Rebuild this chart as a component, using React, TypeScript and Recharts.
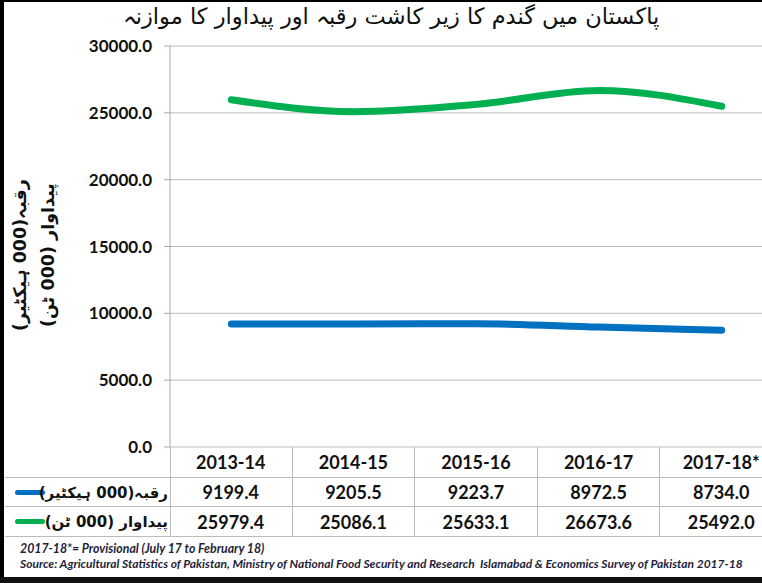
import { LineChart, Line, XAxis, YAxis, CartesianGrid } from "recharts";

const years = ["2013-14", "2014-15", "2015-16", "2016-17", "2017-18*"];
const areaValues = [9199.4, 9205.5, 9223.7, 8972.5, 8734.0];
const productionValues = [25979.4, 25086.1, 25633.1, 26673.6, 25492.0];
const yTicks = [0, 5000, 10000, 15000, 20000, 25000, 30000];

const areaLabel = "رقبہ(000 ہیکٹیر)";
const productionLabel = "پیداوار (000 ٹن)";
const title = "پاکستان میں گندم کا زیر کاشت رقبہ اور پیداوار کا موازنہ";

const data = years.map((y, i) => ({ year: y, area: areaValues[i], production: productionValues[i] }));

const BLUE = "#0070C0";
const GREEN = "#00B050";
const GRID = "#bcbcbc";
const LEFT = 170;
const TOP = 46;
const BOTTOM = 447;
const COL = 122.6;
const CHART_W = 800;
const ROW_H = [31, 29, 30];

const urdu = "'DejaVu Sans', sans-serif";
const latin = "Lato, 'Open Sans', sans-serif";

function Cell({ x, y, w, h, children }: any) {
  return (
    <div
      style={{
        position: "absolute", left: x, top: y, width: w, height: h,
        borderRight: `1px solid ${GRID}`,
        borderBottom: `1px solid ${GRID}`, boxSizing: "border-box",
        display: "flex", alignItems: "center", justifyContent: "center",
        fontFamily: latin, fontWeight: 700, fontSize: 18, color: "#111",
      }}
    >
      {children}
    </div>
  );
}

export default function App() {
  const rows = [
    { label: areaLabel, color: BLUE, values: areaValues },
    { label: productionLabel, color: GREEN, values: productionValues },
  ];
  let y1 = BOTTOM + ROW_H[0];
  return (
    <div style={{ position: "absolute", left: 0, top: 0, width: 762, height: 583, overflow: "hidden", background: "#fff" }}>
      <div style={{ position: "absolute", left: 0, top: 3, width: 782, textAlign: "center", fontFamily: urdu, fontSize: 22.5, color: "#111", direction: "rtl" }}>
        {title}
      </div>

      <div style={{ position: "absolute", left: 0, top: 0 }}>
        <LineChart width={CHART_W} height={583} data={data} margin={{ top: TOP, right: CHART_W - LEFT - COL * 5, bottom: 583 - BOTTOM, left: 0 }}>
          <CartesianGrid vertical={false} stroke={GRID} />
          <XAxis dataKey="year" hide padding={{ left: COL / 2, right: COL / 2 }} />
          <YAxis
            width={LEFT}
            domain={[0, 30000]}
            ticks={yTicks}
            tickFormatter={(v: number) => v.toFixed(1)}
            tick={{ fill: "#111", fontSize: 17, fontWeight: 700, fontFamily: latin }}
            tickMargin={12}
            stroke="#a8a8a8"
          />
          <Line type="monotone" dataKey="area" stroke={BLUE} strokeWidth={7} strokeLinecap="round" dot={false} isAnimationActive={false} />
          <Line type="monotone" dataKey="production" stroke={GREEN} strokeWidth={7} strokeLinecap="round" dot={false} isAnimationActive={false} />
        </LineChart>
      </div>

      {/* y axis title */}
      {[areaLabel, productionLabel].map((t, i) => (
        <div key={i} style={{ position: "absolute", left: 22 + i * 28 - 100, top: 255 - 12, width: 200, height: 24, textAlign: "center", transform: "rotate(-90deg)", fontFamily: urdu, fontWeight: 700, fontSize: 17.5, color: "#111", direction: "rtl", whiteSpace: "nowrap" }}>
          {t}
        </div>
      ))}

      {/* data table */}
      {years.map((yr, i) => (
        <Cell key={yr} x={LEFT + i * COL} y={BOTTOM} w={COL} h={ROW_H[0]}>{yr}</Cell>
      ))}
      <div style={{ position: "absolute", left: LEFT, top: BOTTOM, width: 1, height: ROW_H[0] + ROW_H[1] + ROW_H[2], background: GRID }} />
      <div style={{ position: "absolute", left: 5, top: BOTTOM + ROW_H[0] - 1, width: LEFT - 5, height: 1, background: GRID }} />
      {rows.map((r, ri) => {
        const top = y1;
        y1 += ROW_H[ri + 1];
        return (
          <div key={ri}>
            <div style={{ position: "absolute", left: 5, top, width: LEFT - 5, height: ROW_H[ri + 1], borderBottom: `1px solid ${GRID}`, boxSizing: "border-box" }}>
              <div style={{ position: "absolute", left: 10, top: ROW_H[ri + 1] / 2 - 3, width: 30, height: 5, borderRadius: 3, background: r.color }} />
              <div style={{ position: "absolute", right: 2, top: 0, height: ROW_H[ri + 1], display: "flex", alignItems: "center", fontFamily: urdu, fontWeight: 700, fontSize: 15, color: "#111", direction: "rtl", whiteSpace: "nowrap" }}>
                {r.label}
              </div>
            </div>
            {r.values.map((v, i) => (
              <Cell key={i} x={LEFT + i * COL} y={top} w={COL} h={ROW_H[ri + 1]}>{v.toFixed(1)}</Cell>
            ))}
          </div>
        );
      })}

      {/* notes */}
      <div style={{ position: "absolute", left: 20, top: 541, fontFamily: latin, fontStyle: "italic", fontWeight: 700, fontSize: 12.3, color: "#1e1e3a", whiteSpace: "nowrap" }}>
        2017-18*= Provisional (July 17 to February 18)
      </div>
      <div style={{ position: "absolute", left: 20, top: 556, fontFamily: latin, fontStyle: "italic", fontWeight: 700, fontSize: 12, color: "#1e1e3a", whiteSpace: "nowrap" }}>
        Source: Agricultural Statistics of Pakistan, Ministry of National Food Security and Research&nbsp; Islamabad &amp; Economics Survey of Pakistan 2017-18
      </div>

      {/* frame */}
      <div style={{ position: "absolute", left: 0, top: 0, width: 762, height: 2, background: "#000" }} />
      <div style={{ position: "absolute", left: 0, top: 0, width: 4, height: 583, background: "#000" }} />
      <div style={{ position: "absolute", left: 0, top: 577, width: 762, height: 6, background: "#111" }} />
    </div>
  );
}
